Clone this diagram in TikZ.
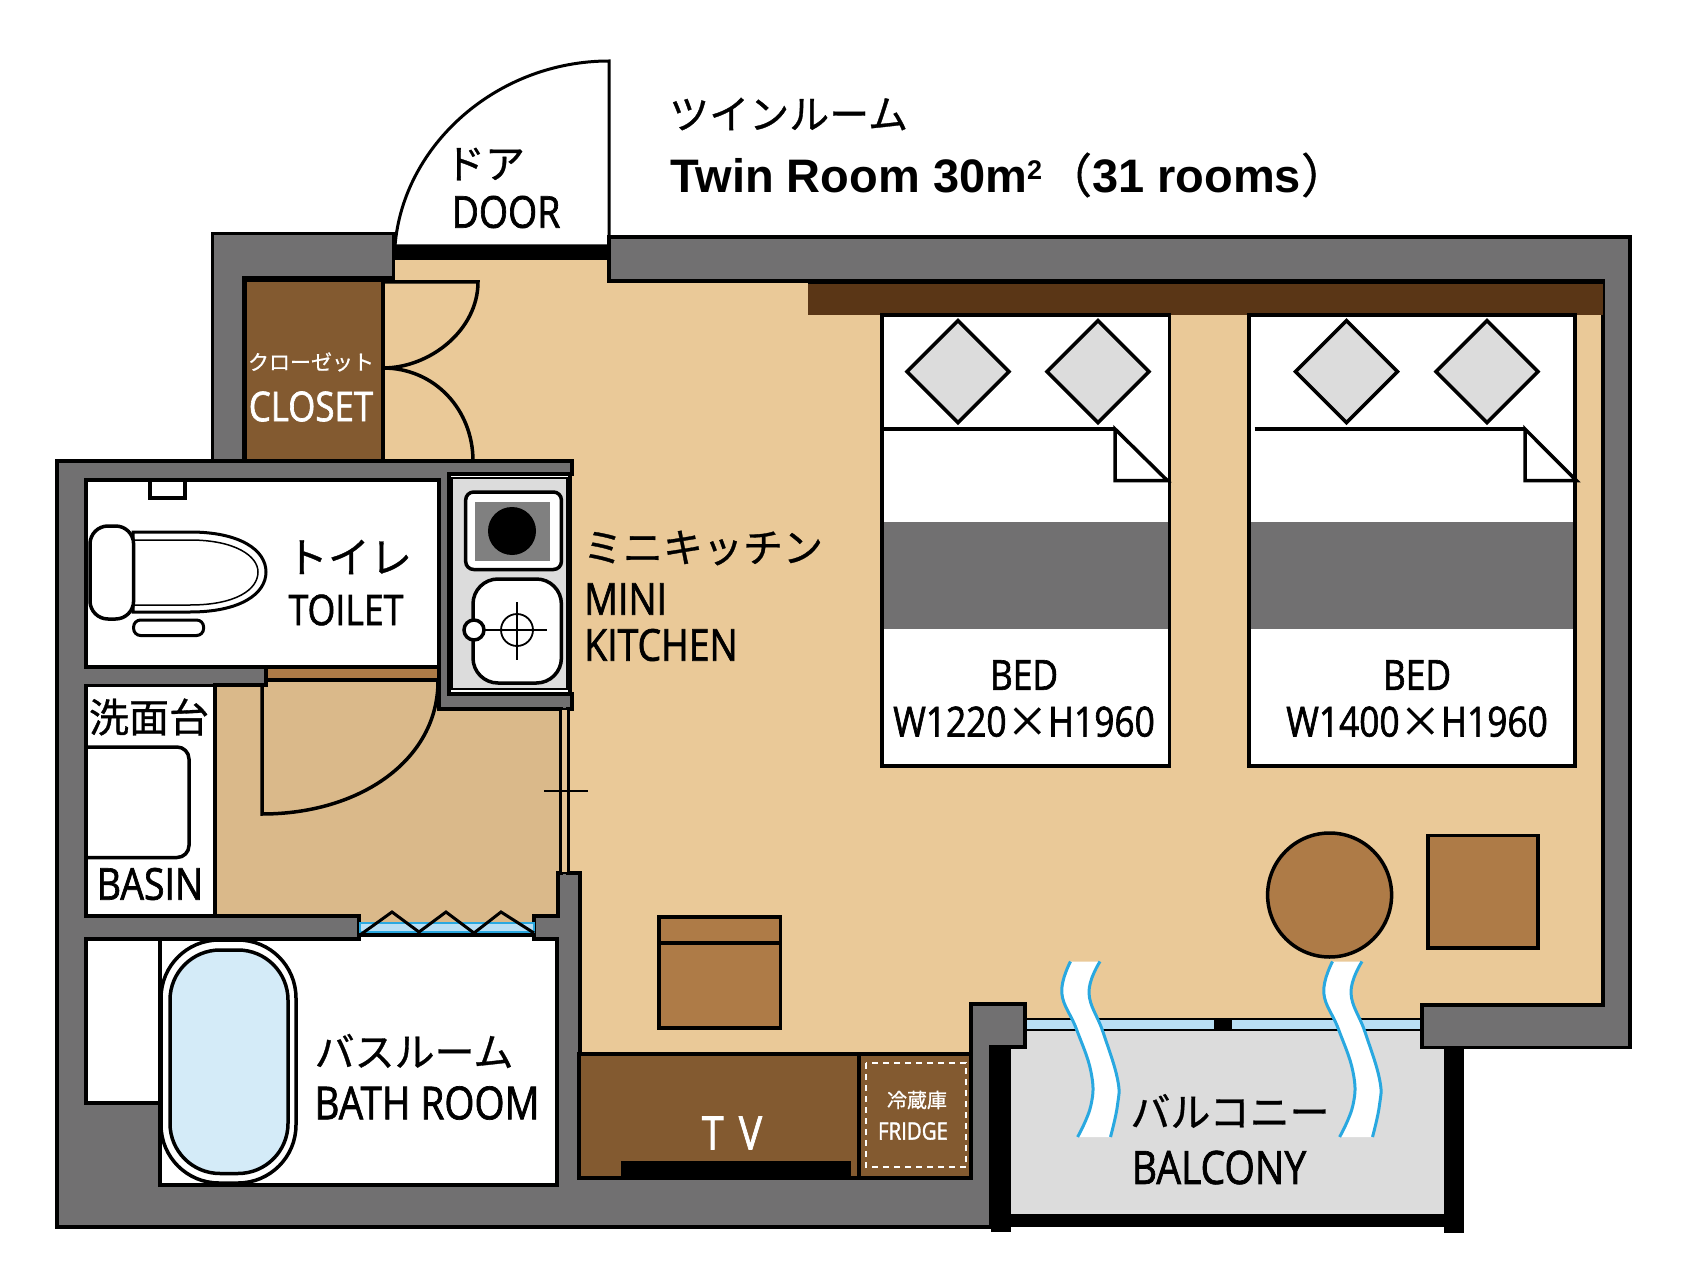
\documentclass[tikz,border=0pt]{standalone}
\usepackage{fontspec}
\setmainfont[FakeStretch=0.85,FakeBold=1.5]{Open Sans}
\newfontfamily\jpfont[FakeBold=0.8]{Noto Sans CJK JP}
\newfontfamily\headfont{Liberation Sans}
\newcommand{\fpx}[1]{\fontsize{#1}{#1}\selectfont}
\definecolor{floorbeige}{HTML}{EAC998}
\definecolor{floortan}{HTML}{DAB98A}
\definecolor{woodlight}{HTML}{AE7B47}
\definecolor{wooddark}{HTML}{835A30}
\definecolor{shelfbrown}{HTML}{5A3616}
\definecolor{wallgrey}{HTML}{717071}
\definecolor{paleGrey}{HTML}{DCDCDC}
\definecolor{tubblue}{HTML}{D4EBF8}
\definecolor{glassblue}{HTML}{B9DFF4}
\definecolor{curtainblue}{HTML}{29A8E0}
\tikzset{
  ink/.style={draw=black,line width=3.5pt},
  wallshape/.style={draw=black,line width=3.2pt,fill=wallgrey},
  whitebox/.style={ink,fill=white},
  woodbox/.style={ink,fill=woodlight},
  cabinet/.style={ink,fill=wooddark},
  jplabel/.style={inner sep=0pt,font=\jpfont},
  enlabel/.style={inner sep=0pt},
}

\begin{document}
\begin{tikzpicture}[x=1pt,y=-1pt]
\useasboundingbox (0,0) rectangle (1695,1265);

\fill[floorbeige] (394,258) -- (1605,258) -- (1605,1040) -- (1030,1040) -- (1030,1060) -- (570,1060) -- (570,700) -- (380,700) -- (380,278) -- (394,278) -- cycle;

\draw[whitebox,line width=3pt] (395,246) .. controls (403,145) and (497,61) .. (609,61) -- (609,246) -- cycle;
\fill[black] (395,246) rectangle (609,260);

\fill[paleGrey] (1011,1030) rectangle (1444,1214);
\draw[ink,line width=2.5pt,fill=glassblue] (1025,1019) rectangle (1422,1030);
\fill[black] (1214,1018) rectangle (1232,1030);

\draw[wallshape] (609,237) -- (1630,237) -- (1630,1047.5) -- (1422,1047.5) -- (1422,1005) -- (1603,1005) -- (1603,281) -- (609,281) -- cycle;
\draw[wallshape] (212.5,233.5) -- (393.5,233.5) -- (393.5,278) -- (243.6,278) -- (243.6,461) -- (212.5,461) -- cycle;
\draw[wallshape] (57,461) -- (572,461) -- (572,474) -- (570,474) -- (570,694) -- (572,694) -- (572,709) -- (568,709) -- (568,873) -- (580,873) -- (580,1178) -- (971,1178) -- (971,1004) -- (1025,1004) -- (1025,1047) -- (991,1047) -- (991,1227) -- (57,1227) -- cycle;

\fill[black] (991,1047) rectangle (1011,1232);
\fill[black] (1444,1047) rectangle (1464,1233);
\fill[black] (1011,1214) rectangle (1444,1226.5);

\fill[shelfbrown] (807.5,282) rectangle (1603,315);
\draw[ink] (807.5,282) -- (1603,282);

\draw[cabinet,line width=4.5pt] (245,280) rectangle (383,461);
\draw[ink] (383,282) -- (478,282) .. controls (478,330) and (430,368) .. (383,368);
\draw[ink] (383,368) .. controls (435,368) and (473,410) .. (473,461);

\draw[whitebox] (86,480) rectangle (439,667);
\draw[ink,fill=woodlight] (266,667) rectangle (439,680);
\draw[ink,fill=floortan] (215,685) -- (266,685) -- (266,680) -- (439,680) -- (439,709) -- (561,709) -- (561,873) -- (558,873) -- (558,916) -- (534,916) -- (534,935) -- (359,935) -- (359,916) -- (215,916) -- cycle;
\draw[ink,line width=2.5pt,fill=floorbeige!60!floortan] (561,709) rectangle (568,873);
\draw[ink,line width=2.5pt] (544,791) -- (587.5,791);
\draw[ink] (262,684) -- (262,814) .. controls (360,814) and (438,760) .. (438,681);

\draw[whitebox] (150,480) rectangle (185,498);
\draw[whitebox,line width=3pt] (133,532) -- (190,532) .. controls (240,532) and (266,550) .. (266,572) .. controls (266,594) and (240,612) .. (190,612) -- (133,612) -- cycle;
\draw[ink,line width=1.5pt] (133,540) -- (190,540) .. controls (235,540) and (258,556) .. (258,572) .. controls (258,590) and (235,605) .. (190,605) -- (133,605);
\draw[whitebox,rounded corners=18pt] (90,526) rectangle (133.6,619);
\draw[whitebox,line width=3pt,rounded corners=7pt] (133.6,620) rectangle (203.6,635.5);

\draw[ink,fill=white] (449,474) rectangle (570,694);
\draw[ink,line width=2pt,fill=paleGrey] (452,478) rectangle (567,689);
\draw[whitebox,rounded corners=8pt] (465.7,492) rectangle (561.4,569.5);
\fill[gray] (475,502) rectangle (550,561);
\fill[black] (512,531) circle (24);
\draw[whitebox,rounded corners=25pt] (473,579) rectangle (561.4,683);
\draw[ink,line width=1.8pt] (474,630) -- (547,630);
\draw[ink,line width=1.8pt] (517,602) -- (517,660);
\draw[ink,line width=1.8pt] (517,630) circle (16);
\draw[whitebox] (474,630) circle (10);

\draw[whitebox] (86,685.6) rectangle (215,916);
\draw[ink,rounded corners=12pt] (86,747) -- (189,747) -- (189,857.5) -- (86,857.5);

\draw[ink,fill=white] (160,939) -- (359,939) -- (359,935) -- (534,935) -- (534,939) -- (557,939) -- (557,1185) -- (160,1185) -- cycle;
\draw[whitebox] (86,939) rectangle (160,1103);
\draw[ink,fill=white,rounded corners=58pt] (161,940) rectangle (296,1183);
\draw[ink,fill=tubblue,rounded corners=50pt] (170,950) rectangle (288,1173.5);

\draw[draw=curtainblue,line width=2pt,fill=glassblue] (360,923) rectangle (534,932);
\draw[ink,line width=3pt] (360,935) -- (392,912) -- (419,932) -- (446,912) -- (474,933) -- (501,912) -- (534,933);
\draw[ink,line width=3pt] (360,935) -- (534,935);

\foreach \bedl/\bedr/\padl/\padr/\sheetl/\sheetr/\foldr/\bedmid/\bedsize in {882/1169.5/958/1098/880/1115/1167.5/1024/W1220,1249/1575/1346.5/1487/1254.5/1525/1576.5/1417/W1400} {
  \draw[whitebox] (\bedl,315) rectangle (\bedr,766);
  \fill[wallgrey] (\bedl+2,522) rectangle (\bedr-2,629);
  \foreach \padx in {\padl,\padr}
    \draw[ink,fill=paleGrey] (\padx-51,371.7) -- (\padx,320.7) -- (\padx+51,371.7) -- (\padx,422.7) -- cycle;
  \draw[ink] (\sheetl,429) -- (\sheetr,429);
  \draw[whitebox] (\sheetr,429) -- (\foldr,480.7) -- (\sheetr,480.7) -- cycle;
  \node[enlabel,font=\fpx{41.5}] (bedname\bedsize) at (\bedmid,675) {BED};
  \node[enlabel,font=\fpx{41.5}] (bedsize\bedsize) at (\bedmid,721.7) {\bedsize{\jpfont ×}H1960};
}

\draw[woodbox] (659,917) rectangle (780.5,1028);
\draw[ink] (659,943) -- (780.5,943);
\draw[woodbox] (1329.6,895) circle (62);
\draw[woodbox] (1428,835.6) rectangle (1538,948);

\draw[cabinet] (579,1054) rectangle (859,1178);
\draw[cabinet] (859,1054) rectangle (971,1178);
\fill[black] (621,1161) rectangle (851,1177);
\draw[white,line width=2pt,dash pattern=on 6pt off 5pt] (866,1063) rectangle (966,1167);

\foreach \s in {0,262} {
  \begin{scope}[xshift=\s pt]
    \fill[white] plot[smooth,tension=0.7] coordinates {(1070.5,961.5) (1061.8,993) (1076.4,1029) (1091,1072) (1091,1105) (1077.6,1137)} -- plot[smooth,tension=0.7] coordinates {(1110.5,1137) (1117.5,1105) (1117.5,1079) (1103,1032) (1089,993) (1100,961.5)} -- cycle;
    \draw[curtainblue,line width=3pt] plot[smooth,tension=0.7] coordinates {(1070.5,961.5) (1061.8,993) (1076.4,1029) (1091,1072) (1091,1105) (1077.6,1137)};
    \draw[curtainblue,line width=3pt] plot[smooth,tension=0.7] coordinates {(1100,961.5) (1089,993) (1103,1032) (1117.5,1079) (1117.5,1105) (1110.5,1137)};
  \end{scope}
}

\node[jplabel,font=\jpfont\fpx{40},anchor=west] (titlejp) at (669,114) {ツインルーム};
\node[enlabel,anchor=west,font=\headfont\bfseries\fpx{47}] (titleen) at (670,175) {Twin Room 30m\raisebox{13pt}{\fpx{27}2}\hspace{3pt}{\jpfont\mdseries （}31 rooms{\jpfont\mdseries ）}};
\node[jplabel,font=\jpfont\fpx{40}] (doorjp) at (485,164) {ドア};
\node[enlabel,font=\fpx{44}] (dooren) at (506,212) {DOOR};
\node[jplabel,font=\jpfont\fpx{21},text=white] (closetjp) at (311,362) {クローゼット};
\node[enlabel,font=\fpx{41},text=white] (closeten) at (311,406.5) {CLOSET};
\node[jplabel,font=\jpfont\fpx{42}] (toiletjp) at (349,557) {トイレ};
\node[enlabel,font=\fpx{42}] (toileten) at (346,610) {TOILET};
\node[jplabel,font=\jpfont\fpx{40}] (kitchenjp) at (703,548) {ミニキッチン};
\node[enlabel,font=\fpx{44},anchor=west] (kitchenmini) at (584,599) {MINI};
\node[enlabel,font=\fpx{44},anchor=west] (kitchenen) at (584,645) {KITCHEN};
\node[jplabel,font=\jpfont\fpx{40}] (basinjp) at (149,717) {洗面台};
\node[enlabel,font=\fpx{44}] (basinen) at (150,884) {BASIN};
\node[jplabel,font=\jpfont\fpx{40}] (bathjp) at (414,1051) {バスルーム};
\node[enlabel,font=\fpx{45.5}] (bathen) at (427,1103) {BATH ROOM};
\node[enlabel,font=\fpx{46},text=white] (tvname) at (732,1133) {T\,\,V};
\node[jplabel,font=\jpfont\fpx{20},text=white] (fridgejp) at (917,1100) {冷蔵庫};
\node[enlabel,font=\fpx{24},text=white] (fridgeen) at (913,1131) {FRIDGE};
\node[jplabel,font=\jpfont\fpx{40}] (balconyjp) at (1230,1111) {バルコニー};
\node[enlabel,font=\fpx{46}] (balconyen) at (1219,1167.5) {BALCONY};
\end{tikzpicture}
\end{document}
